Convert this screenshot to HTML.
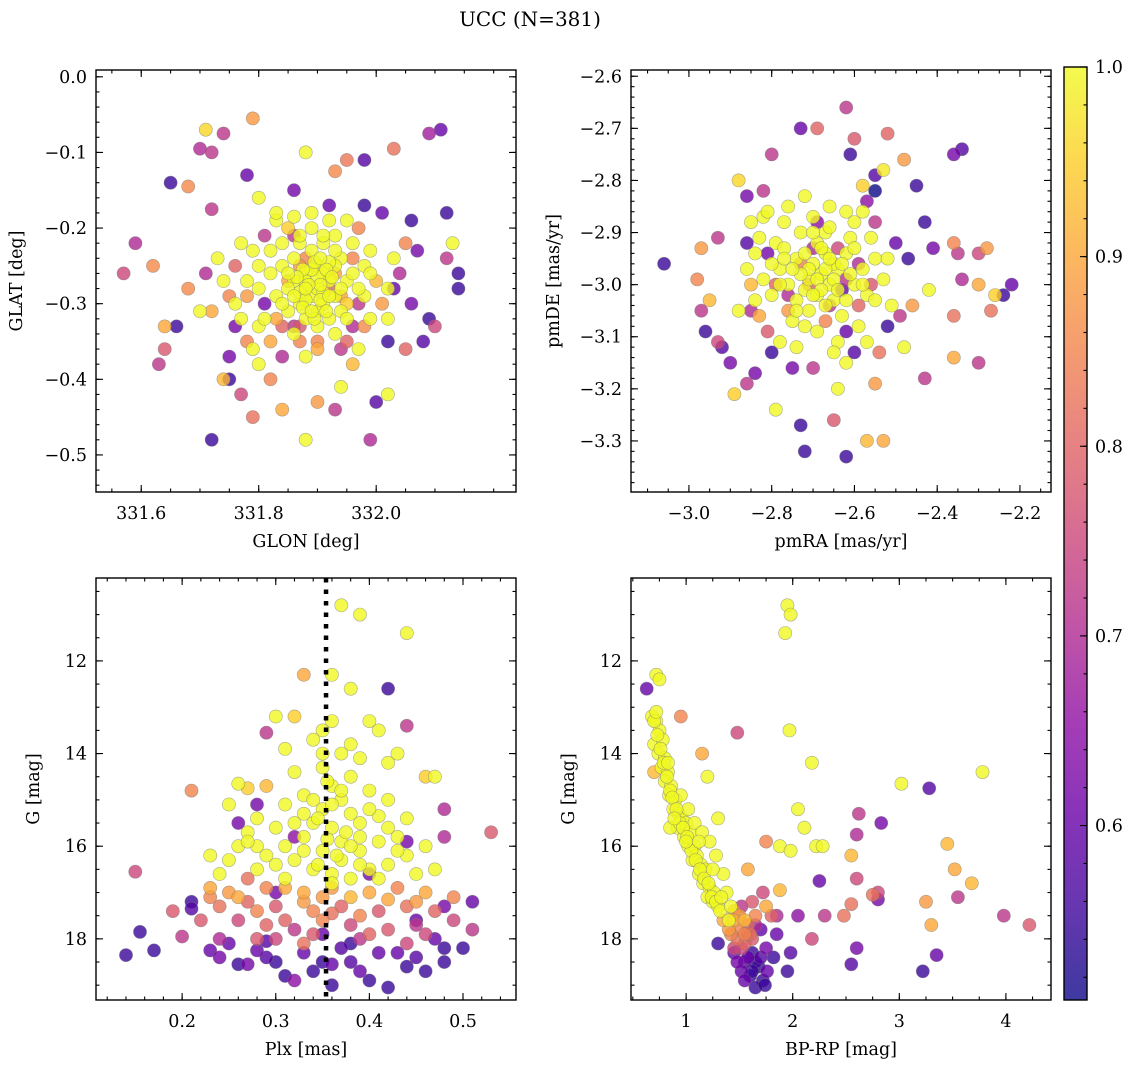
<!DOCTYPE html>
<html><head><meta charset="utf-8">
<style>
html,body{margin:0;padding:0;background:#fff;}
svg{display:block;font-family:"DejaVu Serif","Liberation Serif",serif;}
</style></head>
<body>
<svg id="fig" width="1136" height="1067" viewBox="0 0 1136 1067" xmlns="http://www.w3.org/2000/svg">
<text x="530" y="26" font-size="20" text-anchor="middle">UCC (N=381)</text>
</svg>
<script>
// ---- data (x, y, membership probability) ----
const posPoints = [
[331.71,-0.07,0.96],[331.74,-0.075,0.72],[331.79,-0.055,0.88],[331.70,-0.095,0.70],[331.72,-0.10,0.72],[331.88,-0.10,1],[332.11,-0.07,0.6],[332.09,-0.075,0.68],[332.03,-0.095,0.82],[331.98,-0.11,0.58],[331.95,-0.11,0.83],[331.93,-0.125,0.86],[331.78,-0.13,0.6],[331.68,-0.145,0.86],[331.65,-0.14,0.55],[331.80,-0.16,1],[331.72,-0.175,0.72],[331.57,-0.26,0.75],[331.59,-0.22,0.7],[331.62,-0.25,0.86],[331.64,-0.33,0.9],[331.66,-0.33,0.55],[331.64,-0.36,0.78],[331.63,-0.38,0.72],[331.68,-0.28,0.86],[331.72,-0.48,0.55],[331.74,-0.40,0.92],[331.75,-0.40,0.55],[331.77,-0.42,0.75],[331.79,-0.45,0.82],[331.84,-0.44,0.9],[331.80,-0.38,1],[331.82,-0.40,0.85],[331.86,-0.33,0.72],[331.88,-0.48,1],[331.90,-0.43,0.88],[331.93,-0.44,0.72],[331.94,-0.41,1],[331.96,-0.38,0.92],[331.99,-0.48,0.7],[332.00,-0.43,0.58],[332.02,-0.42,1],[332.02,-0.35,0.55],[332.05,-0.36,0.8],[332.08,-0.35,0.58],[332.09,-0.32,0.55],[332.10,-0.33,0.75],[332.14,-0.26,0.55],[332.14,-0.28,0.55],[332.12,-0.24,0.72],[332.13,-0.22,1],[332.12,-0.18,0.55],[332.06,-0.19,0.55],[332.07,-0.23,0.62],[332.05,-0.22,0.85],[332.03,-0.24,1],[332.04,-0.26,0.7],[332.06,-0.3,0.62],[332.01,-0.18,0.6],[331.98,-0.17,0.55],[332.00,-0.27,0.92],[331.98,-0.25,1],[331.97,-0.20,0.85],[331.92,-0.17,0.6],[331.86,-0.15,0.62],[331.85,-0.20,0.95],[331.83,-0.19,1],[331.81,-0.21,0.72],[331.79,-0.23,1],[331.77,-0.22,1],[331.76,-0.25,0.8],[331.73,-0.24,1],[331.71,-0.26,0.7],[331.70,-0.31,1],[331.72,-0.31,0.9],[331.75,-0.29,0.85],[331.76,-0.33,0.62],[331.78,-0.35,0.85],[331.80,-0.33,1],[331.82,-0.35,0.9],[331.84,-0.37,0.7],[331.87,-0.35,0.85],[331.90,-0.36,0.9],[331.93,-0.34,1],[331.96,-0.33,0.7],[331.99,-0.32,1],[332.01,-0.30,0.88],[331.95,-0.30,0.95],
[331.86,-0.27,1],[331.88,-0.26,1],[331.90,-0.25,1],[331.92,-0.27,1],[331.89,-0.29,1],[331.87,-0.30,1],[331.91,-0.30,1],[331.93,-0.29,1],[331.85,-0.28,1],[331.84,-0.25,1],[331.94,-0.24,1],[331.89,-0.23,1],[331.91,-0.22,1],[331.87,-0.22,1],[331.88,-0.32,1],[331.92,-0.32,1],[331.95,-0.27,1],[331.83,-0.29,1],[331.86,-0.24,1],[331.90,-0.28,1],[331.89,-0.20,1],[331.92,-0.19,1],[331.96,-0.22,1],[331.82,-0.26,1],[331.80,-0.28,1],[331.98,-0.29,1],[331.85,-0.31,1],[331.90,-0.33,1],[331.93,-0.25,1],[331.88,-0.27,1],[331.91,-0.26,1],[331.87,-0.285,1],[331.90,-0.31,1],[331.94,-0.31,1],[331.84,-0.22,1],[331.96,-0.26,1],[331.78,-0.27,1],[331.99,-0.26,1],[331.86,-0.34,1],[331.89,-0.18,1],[331.93,-0.21,1],[331.80,-0.25,1],[332.02,-0.28,1],[331.76,-0.30,1],[331.90,-0.265,1],[331.91,-0.285,1],[331.89,-0.255,1],[331.92,-0.245,1],[331.88,-0.295,1],[331.905,-0.275,1],
[331.875,-0.255,1],[331.895,-0.245,1],[331.915,-0.255,1],[331.885,-0.275,1],[331.865,-0.265,1],[331.925,-0.265,1],[331.905,-0.295,1],[331.875,-0.305,1],[331.915,-0.31,1],[331.895,-0.32,1],[331.86,-0.29,1],[331.94,-0.28,1],[331.85,-0.26,1],[331.93,-0.23,1],[331.87,-0.21,1],[331.91,-0.21,1],[331.95,-0.32,1],[331.84,-0.30,1],[331.97,-0.28,1],[331.82,-0.23,1],[331.81,-0.32,1],[331.99,-0.23,1],[331.77,-0.32,1],[331.74,-0.27,1],[332.02,-0.32,1],[331.83,-0.18,1],[331.95,-0.19,1],[331.88,-0.37,1],[331.97,-0.36,1],[331.79,-0.36,1],[331.86,-0.185,1],[331.905,-0.24,1],[331.89,-0.31,1],[331.92,-0.29,1],[331.88,-0.28,1],
[331.88,-0.24,0.85],[331.92,-0.28,0.8],[331.85,-0.27,0.9],[331.94,-0.29,0.9],[331.90,-0.35,0.85],[331.87,-0.33,0.78],[331.95,-0.35,0.8],[331.83,-0.32,0.9],[331.97,-0.30,0.72],[331.81,-0.30,0.62],
[331.87,-0.25,0.88],[331.93,-0.26,0.9],[331.96,-0.24,0.85],[331.84,-0.33,0.8],[331.98,-0.33,0.86],[331.78,-0.29,0.88],[331.75,-0.37,0.62],[332.03,-0.28,0.6],[331.86,-0.21,0.72],[331.94,-0.36,0.72]
];
const pmPoints = [
[-3.06,-2.96,0.55],[-2.62,-2.66,0.72],[-2.73,-2.70,0.6],[-2.69,-2.70,0.8],[-2.60,-2.72,0.78],[-2.52,-2.71,0.8],[-2.34,-2.74,0.58],[-2.36,-2.75,0.62],[-2.61,-2.75,0.55],[-2.80,-2.75,0.72],[-2.55,-2.79,0.58],[-2.48,-2.76,0.88],[-2.45,-2.81,0.55],[-2.53,-2.78,0.98],[-2.88,-2.80,0.96],[-2.93,-2.91,0.72],[-2.97,-2.93,0.88],[-2.98,-2.99,0.85],[-2.95,-3.03,0.92],[-2.97,-3.05,0.72],[-2.96,-3.09,0.55],[-2.93,-3.11,0.75],[-2.92,-3.12,0.58],[-2.90,-3.15,0.62],[-2.89,-3.21,0.95],[-2.86,-3.19,0.72],[-2.84,-3.17,0.62],[-2.79,-3.24,1],[-2.73,-3.27,0.55],[-2.72,-3.32,0.55],[-2.62,-3.33,0.55],[-2.57,-3.30,0.92],[-2.53,-3.30,0.9],[-2.65,-3.26,0.78],[-2.64,-3.20,1],[-2.55,-3.19,0.88],[-2.54,-3.13,0.82],[-2.48,-3.12,1],[-2.43,-3.18,0.72],[-2.36,-3.14,0.9],[-2.30,-3.15,0.72],[-2.36,-3.06,0.82],[-2.27,-3.05,0.82],[-2.24,-3.02,0.55],[-2.22,-3.00,0.6],[-2.26,-3.02,0.95],[-2.30,-3.00,0.9],[-2.34,-2.99,0.7],[-2.35,-2.94,0.72],[-2.30,-2.94,0.75],[-2.28,-2.93,0.88],[-2.36,-2.92,0.85],[-2.41,-2.93,0.62],[-2.43,-2.88,0.55],[-2.42,-3.01,1],[-2.46,-3.04,0.88],[-2.49,-3.06,0.72],[-2.51,-3.04,1],[-2.47,-2.95,0.55],[-2.50,-2.92,0.6],[-2.55,-2.88,0.72],[-2.57,-2.84,0.65],[-2.58,-2.86,1],[-2.86,-2.83,0.62],[-2.82,-2.82,0.72],[-2.82,-2.87,1],[-2.86,-2.92,0.58],[-2.84,-2.94,1],[-2.81,-3.09,0.78],[-2.85,-3.05,0.7],[-2.80,-3.13,0.55],[-2.75,-3.16,0.62],[-2.70,-3.16,0.72],[-2.62,-3.09,0.6],[-2.60,-3.13,0.58],[-2.52,-3.08,0.55],[-2.58,-2.81,0.95],[-2.55,-2.82,0.5],
[-2.68,-2.98,1],[-2.70,-2.96,1],[-2.66,-3.00,1],[-2.64,-2.97,1],[-2.72,-3.01,1],[-2.74,-2.95,1],[-2.62,-2.94,1],[-2.69,-2.92,1],[-2.65,-3.03,1],[-2.71,-3.05,1],[-2.76,-3.00,1],[-2.60,-3.00,1],[-2.78,-2.97,1],[-2.67,-2.90,1],[-2.73,-2.90,1],[-2.63,-3.06,1],[-2.58,-2.97,1],[-2.80,-3.02,1],[-2.75,-3.07,1],[-2.61,-2.91,1],[-2.70,-2.87,1],[-2.66,-2.85,1],[-2.79,-2.92,1],[-2.57,-3.02,1],[-2.82,-2.99,1],[-2.77,-2.88,1],[-2.69,-3.09,1],[-2.64,-3.11,1],[-2.55,-2.95,1],[-2.84,-3.03,1],[-2.72,-2.83,1],[-2.59,-3.08,1],[-2.62,-3.15,1],[-2.78,-3.11,1],[-2.53,-2.99,1],[-2.86,-2.97,1],[-2.67,-2.94,1],[-2.71,-2.99,1],[-2.74,-3.03,1],[-2.65,-2.96,1],[-2.56,-2.91,1],[-2.81,-2.86,1],[-2.60,-2.88,1],[-2.69,-3.02,1],[-2.77,-2.93,1],
[-2.67,-2.97,1],[-2.69,-2.99,1],[-2.71,-2.97,1],[-2.65,-2.99,1],[-2.68,-3.01,1],[-2.70,-3.02,1],[-2.66,-2.95,1],[-2.72,-2.94,1],[-2.64,-3.01,1],[-2.73,-2.98,1],[-2.63,-2.96,1],[-2.68,-2.93,1],[-2.67,-3.04,1],[-2.75,-2.97,1],[-2.61,-2.98,1],[-2.70,-2.90,1],[-2.74,-3.05,1],[-2.62,-3.03,1],[-2.78,-3.00,1],[-2.58,-3.00,1],[-2.77,-2.95,1],[-2.66,-2.89,1],[-2.72,-3.08,1],[-2.60,-2.93,1],[-2.80,-2.96,1],[-2.55,-3.03,1],[-2.83,-2.91,1],[-2.65,-3.13,1],[-2.76,-2.85,1],[-2.62,-2.86,1],[-2.85,-2.88,1],[-2.52,-2.95,1],[-2.88,-3.05,1],[-2.57,-3.11,1],[-2.74,-3.12,1],
[-2.73,-2.96,0.85],[-2.66,-3.04,0.72],[-2.79,-3.00,0.8],[-2.62,-2.99,0.72],[-2.76,-3.05,0.88],[-2.70,-2.93,0.7],[-2.59,-3.04,0.8],[-2.83,-3.06,0.9],[-2.85,-3.00,0.92],[-2.56,-3.00,0.78],
[-2.71,-3.00,0.8],[-2.64,-2.93,0.75],[-2.76,-3.02,0.7],[-2.67,-3.07,0.85],[-2.59,-2.96,0.7],[-2.81,-2.94,0.62],[-2.69,-2.88,0.65],[-2.63,-3.01,0.6]
];
const plxPoints = [
[0.37,10.8,1],[0.39,11.0,1],[0.44,11.4,1],[0.36,12.3,1],[0.38,12.6,1],[0.33,12.3,0.9],[0.40,13.3,1],[0.32,13.2,0.95],[0.30,13.2,1],[0.35,13.5,1],[0.36,13.3,1],[0.41,13.5,1],[0.34,13.7,1],[0.31,13.9,1],[0.37,14.0,1],[0.39,14.1,1],[0.43,14.0,1],[0.42,14.2,1],[0.35,14.3,1],[0.32,14.4,1],[0.38,14.5,1],[0.26,14.65,1],[0.47,14.5,1],[0.36,14.7,1],[0.40,14.8,1],[0.29,14.7,0.92],[0.33,14.9,1],[0.37,15.0,1],[0.42,15.0,1],[0.25,15.1,1],[0.31,15.1,1],[0.35,15.2,1],[0.38,15.3,1],[0.41,15.35,1],[0.28,15.4,1],[0.44,15.4,1],[0.34,15.5,1],[0.36,15.6,1],[0.39,15.5,1],[0.30,15.6,1],[0.27,15.7,1],[0.43,15.8,1],[0.33,15.8,1],[0.37,15.9,1],[0.41,15.9,1],[0.31,16.0,1],[0.26,16.0,1],[0.35,16.1,1],[0.39,16.1,1],[0.44,16.2,1],[0.29,16.2,1],[0.23,16.2,1],[0.32,16.3,1],[0.37,16.3,1],[0.25,16.3,1],[0.42,16.4,1],[0.34,16.5,1],[0.40,16.5,1],[0.47,16.5,1],[0.28,16.5,1],[0.36,16.6,1],[0.31,16.7,1],[0.38,16.7,1],[0.45,16.6,1],
[0.355,14.6,1],[0.36,15.1,1],[0.345,15.4,1],[0.375,15.7,1],[0.355,15.85,1],[0.365,16.2,1],[0.345,16.4,1],[0.33,16.1,1],[0.38,16.0,1],[0.39,15.8,1],[0.34,15.0,1],[0.40,15.2,1],[0.37,14.8,1],[0.33,15.3,1],[0.39,16.4,1],[0.41,16.7,1],[0.36,16.8,1],[0.30,16.4,1],[0.43,16.1,1],[0.35,14.0,1],[0.38,13.8,1],[0.32,15.5,1],[0.42,15.6,1],[0.46,16.0,1],[0.28,16.0,1],[0.24,16.6,1],[0.27,15.9,1],
[0.21,14.8,0.85],[0.27,14.75,0.95],[0.23,16.9,0.9],[0.25,17.0,0.88],[0.29,16.9,0.85],[0.33,17.0,0.9],[0.36,16.9,0.88],[0.40,17.0,0.9],[0.43,16.9,0.85],[0.46,17.0,0.9],[0.49,17.1,0.85],[0.24,17.3,0.82],[0.27,17.2,0.8],[0.30,17.3,0.78],[0.34,17.4,0.85],[0.37,17.3,0.8],[0.41,17.4,0.78],[0.44,17.3,0.82],[0.47,17.4,0.8],[0.22,17.6,0.78],[0.26,17.6,0.75],[0.29,17.7,0.8],[0.32,17.8,0.72],[0.35,17.6,0.85],[0.38,17.7,0.75],[0.42,17.8,0.78],[0.45,17.7,0.72],[0.49,17.6,0.75],[0.51,17.8,0.72],[0.28,18.0,0.78],[0.33,18.1,0.82],[0.39,18.0,0.72],[0.44,18.1,0.75],[0.24,18.0,0.7],[0.19,17.4,0.78],[0.53,15.7,0.78],[0.15,16.55,0.75],[0.29,13.55,0.72],[0.44,13.4,0.72],[0.48,15.8,0.7],[0.46,14.5,0.95],[0.20,17.95,0.72],[0.27,16.7,0.82],
[0.31,16.9,0.9],[0.35,17.1,0.88],[0.38,17.1,0.92],[0.42,17.15,0.9],[0.26,17.1,0.9],[0.33,17.2,0.88],[0.39,17.5,0.85],[0.36,17.45,0.82],[0.31,17.6,0.8],[0.28,17.4,0.85],[0.45,17.2,0.88],[0.23,17.1,0.85],[0.34,17.9,0.78],[0.40,17.9,0.8],[0.46,17.9,0.75],[0.30,18.0,0.75],
[0.14,18.35,0.55],[0.155,17.85,0.55],[0.17,18.25,0.55],[0.21,17.2,0.55],[0.21,17.35,0.58],[0.23,18.25,0.6],[0.24,18.4,0.62],[0.26,18.55,0.55],[0.27,18.55,0.62],[0.28,18.25,0.6],[0.29,18.05,0.58],[0.30,18.5,0.55],[0.31,18.8,0.55],[0.32,18.9,0.65],[0.34,18.7,0.55],[0.35,18.5,0.55],[0.36,18.55,0.6],[0.37,18.2,0.58],[0.38,18.1,0.55],[0.39,18.7,0.6],[0.40,18.9,0.55],[0.42,19.05,0.55],[0.43,18.3,0.6],[0.45,18.4,0.58],[0.46,18.7,0.55],[0.47,18.0,0.6],[0.48,18.2,0.55],[0.50,18.2,0.55],[0.51,17.2,0.6],[0.42,12.6,0.55],[0.26,15.5,0.62],[0.28,15.1,0.62],[0.32,15.8,0.65],[0.44,15.9,0.62],[0.45,17.6,0.6],[0.35,17.9,0.6],[0.30,17.0,0.62],[0.40,16.6,0.62],[0.48,15.2,0.7],[0.48,17.3,0.62],
[0.33,18.3,0.6],[0.38,18.5,0.58],[0.41,18.3,0.6],[0.44,18.6,0.55],[0.29,18.4,0.58],[0.25,18.1,0.6],[0.48,18.5,0.55],[0.36,19.0,0.55]
];
const cmdPoints = [
[0.68,13.2,1],[0.72,13.3,1],[0.75,13.5,1],[0.70,13.8,1],[0.78,13.7,1],[0.74,14.0,1],[0.80,14.1,1],[0.77,14.3,1],[0.83,14.4,1],[0.80,14.6,1],[0.86,14.7,1],[0.84,14.9,1],[0.90,15.0,1],[0.88,15.2,1],[0.93,15.3,1],[0.96,15.4,1],[0.92,15.6,1],[1.0,15.5,1],[0.98,15.8,1],[1.04,15.7,1],[1.02,16.0,1],[1.08,16.0,1],[1.10,16.2,1],[1.06,16.3,1],[1.14,16.4,1],[1.12,16.6,1],[1.18,16.5,1],[1.16,16.8,1],[1.22,16.9,1],[1.20,17.1,1],[1.26,17.0,1],[1.25,17.2,1],[1.30,17.3,1],[0.95,14.9,1],[1.02,15.2,1],[1.08,15.5,1],[1.15,15.7,1],[1.22,15.9,1],[1.28,16.2,1],[1.20,14.5,1],[1.30,15.4,1],[0.72,12.3,1],[0.75,12.4,1],[1.35,16.6,1],[1.38,17.0,1],[0.85,15.6,1],[1.95,10.8,1],[1.98,11.0,1],[1.93,11.4,1],[1.97,13.5,1],[2.18,14.2,1],[2.11,15.6,1],[2.22,16.0,1],[1.88,16.0,1],[2.05,15.2,1],[3.78,14.4,1],[3.02,14.65,1],[1.98,16.1,1],[2.28,16.0,1],
[0.70,13.3,1],[0.73,13.6,1],[0.76,13.9,1],[0.79,14.2,1],[0.82,14.5,1],[0.85,14.8,1],[0.87,14.95,1],[0.91,15.2,1],[0.94,15.5,1],[0.97,15.6,1],[1.01,15.8,1],[1.05,16.1,1],[1.09,16.3,1],[1.13,16.5,1],[1.17,16.7,1],[1.21,16.8,1],[1.24,17.1,1],[1.28,17.2,1],[1.32,17.4,1],[1.00,15.9,1],[0.89,15.4,1],[0.83,14.2,1],[0.72,13.1,1],[1.12,15.9,1],[1.25,16.5,1],[1.33,17.1,1],[1.42,17.3,1],[1.40,17.6,1],
[2.55,16.2,0.92],[3.45,15.95,0.92],[3.52,16.5,0.9],[3.68,16.8,0.92],[3.30,17.7,0.9],[3.25,17.2,0.88],[2.75,17.05,0.82],[2.55,17.25,0.82],[2.48,17.5,0.82],[1.88,16.95,0.92],[1.75,17.3,0.9],[1.55,17.6,0.92],[1.45,17.4,0.88],[1.5,17.8,0.85],[1.6,17.9,0.82],[1.42,17.9,0.85],[1.55,18.1,0.8],[1.35,17.6,0.9],[1.65,17.5,0.85],[1.58,16.5,0.9],[1.75,15.9,0.85],[0.95,13.2,0.85],[0.7,14.4,0.92],[1.15,14.0,0.9],[4.22,17.7,0.78],[3.98,17.5,0.72],[3.55,17.1,0.72],[2.8,17.0,0.75],[2.6,16.7,0.75],[2.62,15.3,0.72],[2.6,15.75,0.7],[2.3,17.5,0.72],[2.18,18.0,0.75],[1.48,13.55,0.75],[1.72,17.0,0.75],[1.62,17.2,0.78],[1.8,17.5,0.8],[1.45,18.2,0.75],
[1.45,17.6,0.9],[1.50,17.5,0.88],[1.55,17.9,0.85],[1.48,18.0,0.82],[1.58,17.7,0.8],[1.52,18.2,0.75],[1.40,17.8,0.88],[1.62,18.0,0.78],
[0.63,12.6,0.6],[1.3,18.1,0.55],[1.45,18.3,0.6],[1.55,18.5,0.58],[1.62,18.3,0.55],[1.68,18.6,0.55],[1.52,18.7,0.6],[1.6,18.8,0.55],[1.72,18.9,0.55],[1.65,19.05,0.55],[1.76,18.7,0.6],[1.82,18.4,0.55],[1.85,17.9,0.6],[1.95,18.7,0.55],[1.98,18.3,0.58],[2.05,17.5,0.65],[2.25,16.75,0.6],[2.55,18.55,0.58],[2.6,18.2,0.62],[2.8,17.15,0.62],[2.83,15.5,0.62],[3.28,14.75,0.58],[3.35,18.35,0.6],[3.22,18.7,0.55],[1.70,17.8,0.6],[1.58,17.9,0.65],[1.75,18.2,0.62],[1.85,17.5,0.7],[1.52,17.3,0.72],[1.65,17.7,0.7],
[1.58,18.4,0.6],[1.65,18.5,0.55],[1.70,18.4,0.58],[1.62,18.7,0.55],[1.74,19.0,0.55],[1.55,18.9,0.6],[1.48,18.5,0.62]
];
const plxLine = 0.3537;
const posXTicks = [331.6,331.8,332.0];
const posYTicks = [0.0,-0.1,-0.2,-0.3,-0.4,-0.5];
const pmXTicks = [-3.0,-2.8,-2.6,-2.4,-2.2];
const pmYTicks = [-2.6,-2.7,-2.8,-2.9,-3.0,-3.1,-3.2,-3.3];
const plxXTicks = [0.2,0.3,0.4,0.5];
const gTicks = [12,14,16,18];
const cmdXTicks = [1,2,3,4];
const cbarTicks = [0.6,0.7,0.8,0.9,1.0];
const cMin = 0.508, cMax = 1.0;

const NS = "http://www.w3.org/2000/svg";
const svg = document.getElementById('fig');
function el(tag, attrs, parent){ const e=document.createElementNS(NS,tag); for(const k in attrs) e.setAttribute(k,attrs[k]); (parent||svg).appendChild(e); return e; }

const plasma = [[13,8,135],[65,4,157],[106,0,168],[143,13,164],[177,42,144],[204,71,120],[225,100,98],[242,132,75],[252,166,54],[252,206,37],[240,249,33]];
function cmap(t){ t=Math.max(0,Math.min(1,t)); const f=t*10, i=Math.min(9,Math.floor(f)), r=f-i; const a=plasma[i], b=plasma[i+1];
  return 'rgb('+a.map((v,k)=>Math.round(v+(b[k]-v)*r)).join(',')+')'; }

function fmt(v,d){ const s=Math.abs(v).toFixed(d); return (v<0?'\u2212':'')+s; }
const FS = 17.5;

function panel(cfg){
  const {name,x0,x1,y0,y1,xmin,xmax,ymin,ymax,pts,xt,yt,xd,yd,xminor,yminor,xlabel,ylabel,invertY} = cfg;
  const sx = v => x0 + (v-xmin)/(xmax-xmin)*(x1-x0);
  const sy = invertY ? (v => y0 + (v-ymin)/(ymax-ymin)*(y1-y0)) : (v => y1 - (v-ymin)/(ymax-ymin)*(y1-y0));
  const g = el('g',{});
  
  
  const clip = el('clipPath',{id:name+'-clip'},g);
  el('rect',{x:x0,y:y0,width:x1-x0,height:y1-y0},clip);
  const pg = el('g',{'clip-path':'url(#'+name+'-clip)'},g);
  
  
  const sorted = pts.slice().sort((a,b)=>a[2]-b[2]);
  sorted.forEach(p=>{
    const c = el('circle',{cx:sx(p[0]).toFixed(1),cy:sy(p[1]).toFixed(1),r:6.6,fill:cmap((p[2]-cMin)/(cMax-cMin)),'fill-opacity':0.8,stroke:'#777','stroke-opacity':0.6,'stroke-width':0.6},pg);
    
    
  });
  if(cfg.extra) cfg.extra(pg,sx,sy);
  const tg = el('g',{stroke:'#000','stroke-width':1.1},g);
  function xtick(v,len){ const X=sx(v); if(X<x0-0.5||X>x1+0.5) return; el('line',{x1:X,y1:y1,x2:X,y2:y1-len},tg); el('line',{x1:X,y1:y0,x2:X,y2:y0+len},tg); }
  function ytick(v,len){ const Y=sy(v); if(Y<y0-0.5||Y>y1+0.5) return; el('line',{x1:x0,y1:Y,x2:x0+len,y2:Y},tg); el('line',{x1:x1,y1:Y,x2:x1-len,y2:Y},tg); }
  for(let v=Math.ceil(xmin/xminor)*xminor; v<=xmax; v+=xminor) xtick(v,3.5);
  for(let v=Math.ceil(Math.min(ymin,ymax)/yminor)*yminor; v<=Math.max(ymin,ymax); v+=yminor) ytick(v,3.5);
  xt.forEach(v=>{ xtick(v,7);
    const t=el('text',{x:sx(v),y:y1+27,'font-size':FS,'text-anchor':'middle'},g); t.textContent=fmt(v,xd);
      });
  yt.forEach(v=>{ ytick(v,7);
    const t=el('text',{x:x0-9,y:sy(v)+6,'font-size':FS,'text-anchor':'end'},g); t.textContent=fmt(v,yd);
      });
  const fr = el('rect',{x:x0,y:y0,width:x1-x0,height:y1-y0,fill:'none',stroke:'#000','stroke-width':1.4},g);
   
  const xl = el('text',{x:(x0+x1)/2,y:y1+55,'font-size':FS,'text-anchor':'middle'},g); xl.textContent=xlabel;
   
  const yx = x0-cfg.ylabOff;
  const yl = el('text',{x:yx,y:(y0+y1)/2,'font-size':FS,'text-anchor':'middle',transform:'rotate(-90 '+yx+' '+(y0+y1)/2+')'},g); yl.textContent=ylabel;
   
}

panel({name:'position',x0:96,x1:516,y0:70,y1:492,xmin:331.523,xmax:332.238,ymin:-0.549,ymax:0.009,pts:posPoints,xt:posXTicks,yt:posYTicks,xd:1,yd:1,xminor:0.05,yminor:0.02,xlabel:'GLON [deg]',ylabel:'GLAT [deg]',ylabOff:74});
panel({name:'proper-motion',x0:631,x1:1051,y0:70,y1:492,xmin:-3.140,xmax:-2.125,ymin:-3.398,ymax:-2.588,pts:pmPoints,xt:pmXTicks,yt:pmYTicks,xd:1,yd:1,xminor:0.05,yminor:0.02,xlabel:'pmRA [mas/yr]',ylabel:'pmDE [mas/yr]',ylabOff:72});
panel({name:'parallax',x0:96,x1:516,y0:578,y1:1000,xmin:0.108,xmax:0.5566,ymin:10.21,ymax:19.32,invertY:true,pts:plxPoints,xt:plxXTicks,yt:gTicks,xd:1,yd:0,xminor:0.02,yminor:0.5,xlabel:'Plx [mas]',ylabel:'G [mag]',ylabOff:57,
  extra:(pg,sx,sy)=>{ const l=el('line',{x1:sx(plxLine),x2:sx(plxLine),y1:578,y2:1000,stroke:'#000','stroke-width':4.5,'stroke-dasharray':'4.5 7'},pg);
      }});
panel({name:'cmd',x0:631,x1:1051,y0:578,y1:1000,xmin:0.483,xmax:4.423,ymin:10.21,ymax:19.32,invertY:true,pts:cmdPoints,xt:cmdXTicks,yt:gTicks,xd:0,yd:0,xminor:0.25,yminor:0.5,xlabel:'BP-RP [mag]',ylabel:'G [mag]',ylabOff:57});

(function(){
  const cx0=1064,cx1=1087,cy0=67,cy1=1000;
  const g=el('g',{});
   
  const defs=el('defs',{},g);
  const lg=el('linearGradient',{id:'cbg',x1:0,y1:1,x2:0,y2:0},defs);
  for(let i=0;i<=20;i++) el('stop',{offset:(i/20),'stop-color':cmap(i/20),'stop-opacity':0.8},lg);
  el('rect',{x:cx0,y:cy0,width:cx1-cx0,height:cy1-cy0,fill:'url(#cbg)'},g);
  const sy=v=>cy1-(v-cMin)/(cMax-cMin)*(cy1-cy0);
  for(let v=0.52; v<=1.0001; v+=0.02){ el('line',{x1:cx1,x2:cx1-3.5,y1:sy(v),y2:sy(v),stroke:'#000','stroke-width':1.1},g); }
  cbarTicks.forEach(v=>{ el('line',{x1:cx1,x2:cx1-7,y1:sy(v),y2:sy(v),stroke:'#000','stroke-width':1.1},g);
    const t=el('text',{x:cx1+8,y:sy(v)+6,'font-size':FS},g); t.textContent=v.toFixed(1);
      });
  el('rect',{x:cx0,y:cy0,width:cx1-cx0,height:cy1-cy0,fill:'none',stroke:'#000','stroke-width':1.4},g);
})();
</script>
</body></html>
